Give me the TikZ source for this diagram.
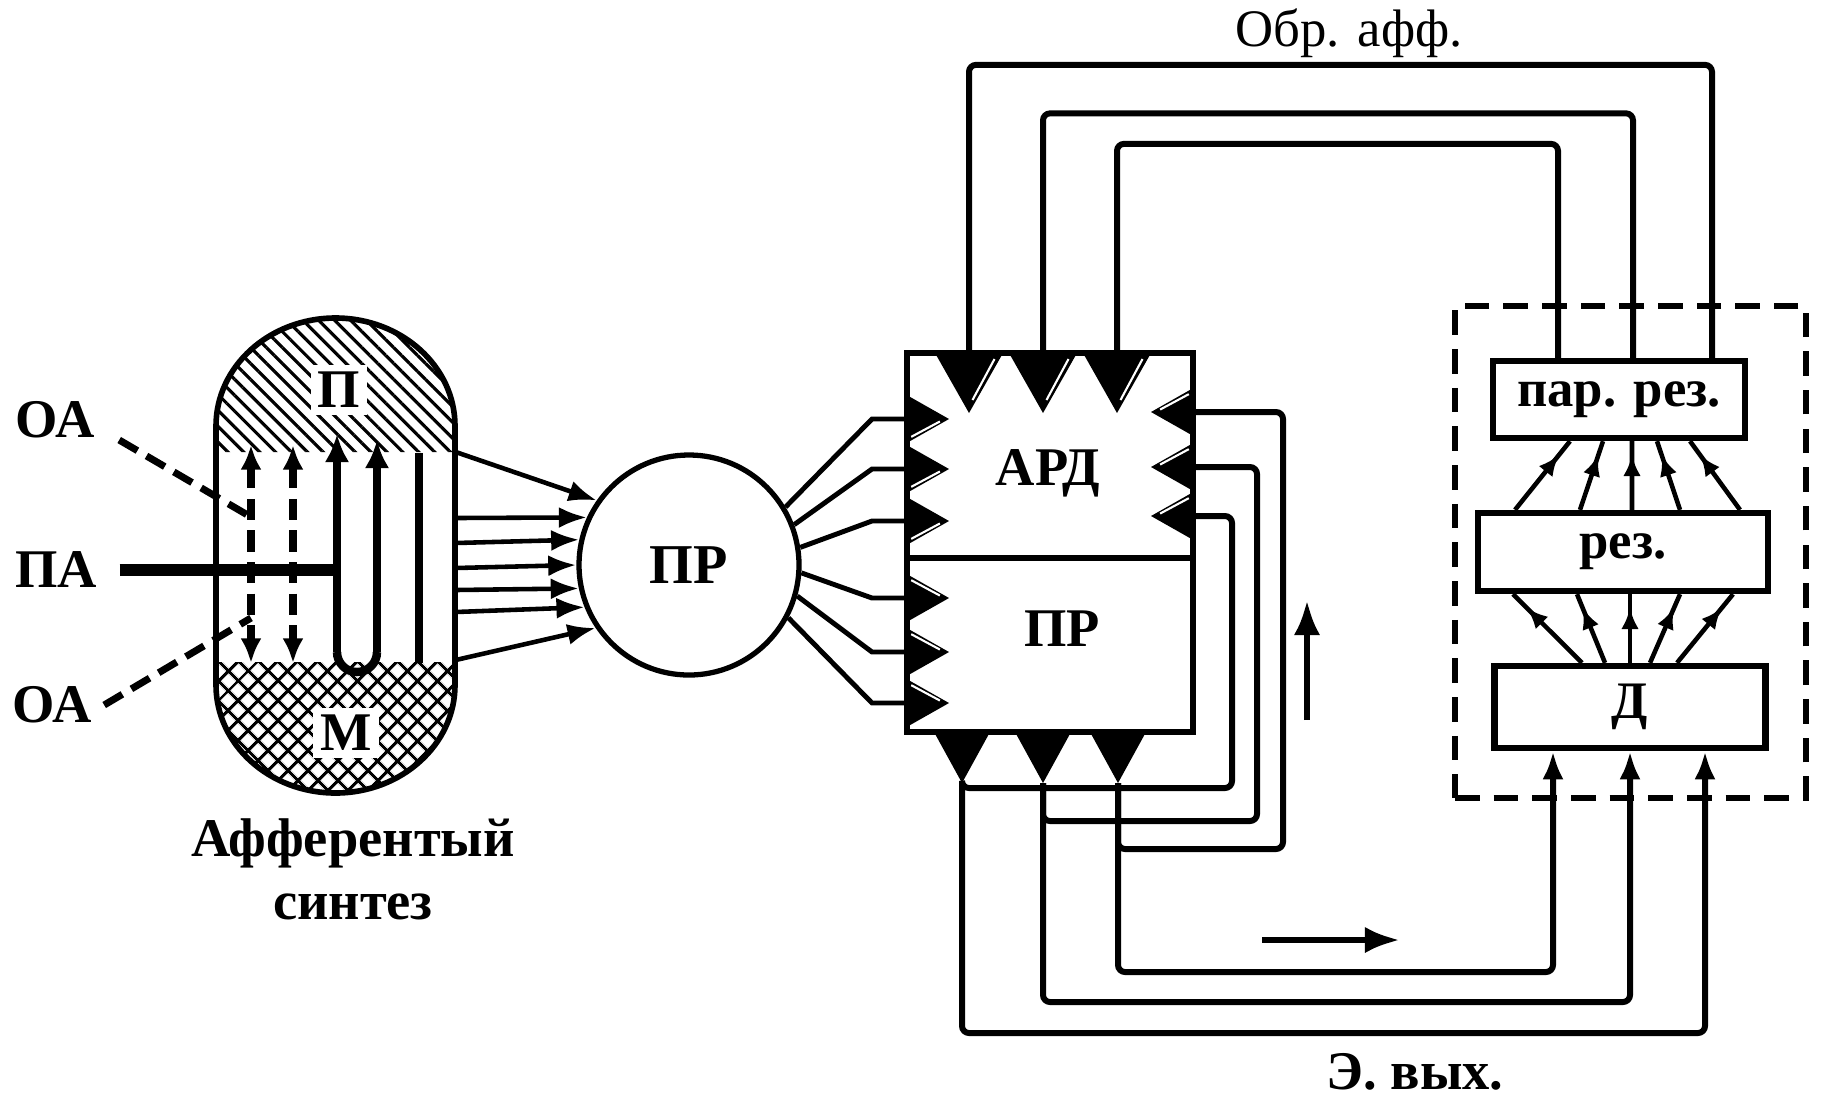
\documentclass[tikz,border=0pt]{standalone}
\usepackage{fontspec}
\setmainfont{Liberation Serif}
\usetikzlibrary{arrows.meta, patterns.meta, decorations.markings}

\begin{document}
\begin{tikzpicture}[
        lbl/.style={inner sep=0pt, font=\fontsize{15.5}{18}\selectfont\bfseries},
        hub/.style={circle, draw=black, line width=1.5pt, minimum size=2.2cm, inner sep=0pt, font=\fontsize{16}{18}\selectfont\bfseries},
        half/.style={rectangle, draw=black, line width=1.7pt, minimum width=2.86cm, inner sep=0pt},
        block/.style={rectangle, draw=black, line width=1.8pt, inner sep=0pt, font=\fontsize{15}{18}\selectfont\bfseries},
        wire/.style={line width=1.4pt},
        fb/.style={line width=1.7pt, rounded corners=2pt},
        dwire/.style={line width=2pt, dash pattern=on 6pt off 3pt},
        inarrow/.style={-{Latex[length=8pt, width=6pt]}},
        late arrow/.style={postaction={decorate}, decoration={markings, mark=at position #1 with {\arrow{Latex[length=6pt, width=5pt]}}}},
        tooth/.pic={
            \fill (-0.34,0) -- (0.34,0) -- (0,-0.6) -- cycle;
            \draw[white, line width=0.6pt] (#1*0.255,-0.06) -- (#1*0.035,-0.47);
        },
        stooth/.pic={\fill (-0.28,0) -- (0.28,0) -- (0,-0.51) -- cycle;}
    ]
    \useasboundingbox (0,0) rectangle (18.25,-10.99);

    % Nodes
    \node[draw=black, line width=1.5pt, dash pattern=on 7pt off 4pt, minimum width=3.51cm, minimum height=4.92cm, inner sep=0pt] (grp) at (16.305,-5.52) {};
    \node[block, fill=white, minimum width=2.52cm, minimum height=0.77cm] (parrez) at (16.19,-3.995) {пар. рез.};
    \node[block, fill=white, minimum width=2.90cm, minimum height=0.78cm] (rez) at (16.23,-5.52) {рез.};
    \node[block, fill=white, minimum width=2.71cm, minimum height=0.82cm] (dd) at (16.30,-7.07) {Д};

    \node[minimum width=2.39cm, minimum height=4.75cm, inner sep=0pt] (synth) at (3.355,-5.555) {};
    \node[hub] (prc) at (6.89,-5.65) {ПР};
    \node[half, minimum height=2.05cm] (ard) at (10.50,-4.555) {};
    \node[half, minimum height=1.74cm] (prb) at (10.50,-6.45) {};

    \node[lbl] (ardt) at (10.48,-4.73) {АРД};
    \node[lbl] (prbt) at (10.62,-6.29) {ПР};
    \node[lbl] (oa1) at (0.55,-4.20) {ОА};
    \node[lbl] (pa) at (0.56,-5.70) {ПА};
    \node[lbl] (oa2) at (0.52,-7.05) {ОА};
    \node[lbl, align=center] (syntxt) at (3.53,-8.69) {Афферентый\\синтез};
    \node[inner sep=0pt, font=\fontsize{15}{18}\selectfont] (obr) at (13.49,-0.33) {Обр. афф.};
    \node[lbl] (evyx) at (14.15,-10.72) {Э. вых.};

    \coordinate (j1) at (2.51,-5.17);
    \coordinate (j2) at (2.51,-6.18);
    \coordinate (ti1) at (9.69,-3.53);
    \coordinate (ti2) at (10.43,-3.53);
    \coordinate (ti3) at (11.17,-3.53);
    \coordinate (ro1) at (11.93,-4.12);
    \coordinate (ro2) at (11.93,-4.67);
    \coordinate (ro3) at (11.93,-5.16);
    \coordinate (bo1) at (9.62,-7.83);
    \coordinate (bo2) at (10.43,-7.83);
    \coordinate (bo3) at (11.18,-7.83);

    % Afferent synthesis body
    \fill[pattern={Lines[angle=-45, distance=3.2pt, line width=0.9pt]}] (2.16,-4.52) -- (2.16,-4.26) arc[start angle=180, end angle=0, x radius=1.195, y radius=1.08] -- (4.55,-4.52) -- cycle;
    \fill[pattern={Hatch[angle=45, distance=4pt, line width=0.9pt]}] (2.16,-6.62) -- (2.16,-6.85) arc[start angle=180, end angle=360, x radius=1.195, y radius=1.08] -- (4.55,-6.62) -- cycle;
    \draw[line width=1.6pt] (2.16,-4.26) arc[start angle=180, end angle=0, x radius=1.195, y radius=1.08] -- (4.55,-6.85) arc[start angle=360, end angle=180, x radius=1.195, y radius=1.08] -- cycle;

    \draw[dwire] (oa1.east) ++(0.24,-0.20) -- (j1);
    \draw[dwire] (oa2.east) ++(0.12,0) -- (j2);
    \draw[dwire, {Latex[length=7pt, width=6pt]}-{Latex[length=7pt, width=6pt]}] (2.51,-4.45) -- (2.51,-6.63);
    \draw[dwire, {Latex[length=7pt, width=6pt]}-{Latex[length=7pt, width=6pt]}] (2.93,-4.45) -- (2.93,-6.63);
    \draw[line width=3.4pt, shorten <=0.22cm] (pa.east) -- (3.37,-5.70);
    \draw[line width=2.4pt, -{Latex[length=8pt, width=7pt]}] (3.37,-6.52) -- (3.37,-4.34);
    \draw[line width=2.4pt, -{Latex[length=8pt, width=7pt]}] (3.77,-6.52) -- (3.77,-4.40);
    \draw[line width=2.4pt] (3.37,-6.52) arc[start angle=180, end angle=360, radius=0.2];
    \draw[line width=2.2pt] (4.19,-4.53) -- (4.19,-6.63);
    \node[lbl, fill=white, inner sep=2pt] (ptop) at (3.39,-3.90) {П};
    \node[lbl, fill=white, inner sep=2pt] (mbot) at (3.46,-7.33) {М};

    % Arrows
    \foreach \dy/\a in {1.035/145, 0.375/155, 0.125/167, -0.125/180, -0.345/192, -0.565/202, -1.045/214}
        \draw[line width=1.3pt, -{Latex[length=8pt, width=6pt]}] ([yshift=\dy cm]synth.east) -- (prc.\a);
    \foreach \a/\y in {31/4.19, 21/4.69, 9/5.21, -4/5.98, -16/6.52, -28/7.03}
        \draw[wire] (prc.\a) -- (8.72,-\y) -- (ard.west |- 0,-\y);

    \draw[fb] ([xshift=-0.61cm]parrez.north) -- ++(0,2.14) -| (ti3);
    \draw[fb] ([xshift=0.14cm]parrez.north) -- ++(0,2.445) -| (ti2);
    \draw[fb] ([xshift=0.93cm]parrez.north) -- ++(0,2.93) -| (ti1);

    \draw[fb] (bo1) |- (12.32,-7.88) |- (ro3);
    \draw[fb] (bo2) |- (12.57,-8.21) |- (ro2);
    \draw[fb] (bo3) |- (12.83,-8.49) |- (ro1);
    \draw[fb, inarrow] (bo1) -- (9.62,-10.33) -| ([xshift=0.75cm]dd.south);
    \draw[fb, inarrow] (bo2) -- (10.43,-10.02) -| (dd.south);
    \draw[fb, inarrow] (bo3) -- (11.18,-9.72) -| ([xshift=-0.77cm]dd.south);

    \foreach \a/\b in {-1.08/-0.49, -0.43/-0.16, 0.09/0.13, 0.57/0.38, 1.17/0.71}
        \draw[line width=1.3pt, late arrow=0.8] ([xshift=\a cm]rez.north) -- ([xshift=\b cm]parrez.south);
    \foreach \a/\b in {-0.48/-1.10, -0.25/-0.46, 0/0.07, 0.20/0.57, 0.47/1.10}
        \draw[line width=1.3pt, late arrow=0.8] ([xshift=\a cm]dd.north) -- ([xshift=\b cm]rez.south);

    \coordinate (up0) at (13.07,-7.20);
    \coordinate (up1) at (13.07,-6.00);
    \coordinate (rt0) at (12.62,-9.40);
    \coordinate (rt1) at (14.00,-9.40);
    \draw[line width=1.8pt, -{Latex[length=10pt, width=7.5pt]}] (up0) -- (up1);
    \draw[line width=1.8pt, -{Latex[length=10pt, width=7.5pt]}] (rt0) -- (rt1);

    % Teeth
    \foreach \x in {9.69, 10.43, 11.17}
        \pic at (\x,-3.53) {tooth=1};
    \foreach \y/\s in {4.19/-1, 4.69/-1, 5.21/-1, 5.98/1, 6.52/1, 7.03/1}
        \pic[rotate=90, scale=0.7] at (9.07,-\y) {tooth=\s};
    \foreach \y in {4.12, 4.67, 5.16}
        \pic[rotate=-90, scale=0.7] at (11.93,-\y) {tooth=-1};
    \foreach \x in {9.62, 10.43, 11.18}
        \pic at (\x,-7.32) {stooth};
\end{tikzpicture}
\end{document}
